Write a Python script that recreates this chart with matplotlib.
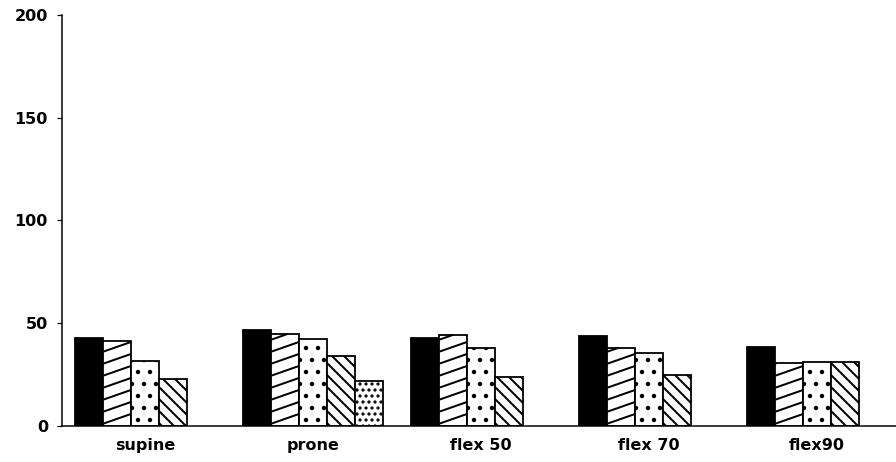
"""Grouped bar chart with hatched fills, redrawn from a scanned figure."""

import numpy as np
import matplotlib

matplotlib.use("Agg")
import matplotlib.pyplot as plt  # noqa: E402
from matplotlib.collections import LineCollection  # noqa: E402

groups = ["supine", "prone", "flex 50", "flex 70", "flex90"]

# one list per bar series (NaN = bar not present in that group)
solid = [42.8, 46.7, 43.0, 43.9, 38.3]
diag_up = [41.5, 44.8, 44.4, 38.1, 30.5]
dotted = [31.8, 42.5, 37.8, 35.7, 31.3]
diag_down = [22.7, 34.2, 23.7, 24.8, 31.0]
dotted_fine = [np.nan, 21.9, np.nan, np.nan, np.nan]

y_ticks = [0, 50, 100, 150, 200]

# (values, face, hatch); "shallow" = hand-drawn low-angle stripes
series = [
    (solid, "black", ""),
    (diag_up, "white", "shallow"),
    (dotted, "white", "."),
    (diag_down, "white", "\\\\"),
    (dotted_fine, "white", ".."),
]

plt.rcParams.update({
    "font.family": "DejaVu Sans",
    "font.weight": "bold",
    "hatch.linewidth": 2.0,
    "hatch.color": "black",
})

fig = plt.figure(figsize=(896 / 72, 462 / 72), dpi=72)
ax = fig.add_axes([62 / 896, 36 / 462, 1 - 62 / 896, (426 - 15) / 462])
ax.set_xlim(-0.46, 29.32)
ax.set_ylim(0, 200)


def shallow_stripes(ax, rect, rise=0.35, gap_px=12):
    """Low-angle '/' stripes inside a bar, spaced in pixels."""
    x, y = rect.get_x(), rect.get_y()
    w, h = rect.get_width(), rect.get_height()
    to_px = ax.transData
    (px0, py0), (px1, py1) = to_px.transform([(x, y), (x + w, y + h)])
    slope = rise
    segs = []
    off = -slope * (px1 - px0)
    while off < (py1 - py0):
        # line: py = py0 + off + slope * (px - px0), cut to the rectangle
        xa = max(px0, px0 + (0 - off) / slope)
        xb = min(px1, px0 + ((py1 - py0) - off) / slope)
        if xb > xa:
            segs.append([(xa, py0 + off + slope * (xa - px0)),
                         (xb, py0 + off + slope * (xb - px0))])
        off += gap_px
    inv = to_px.inverted()
    segs = [inv.transform(s) for s in segs]
    ax.add_collection(LineCollection(segs, colors="black", linewidths=2.0,
                                     capstyle="butt", zorder=rect.get_zorder()))


slots = 6  # 5 bar slots + 1 gap per group
x0 = np.arange(len(groups)) * slots
for j, (vals, face, hatch) in enumerate(series):
    bars = ax.bar(x0 + j + 0.5, vals, width=1.0, color=face, edgecolor="black",
                  linewidth=1.8, hatch=None if hatch == "shallow" else hatch)
    if hatch == "shallow":
        for r in bars:
            shallow_stripes(ax, r)

ax.set_yticks(y_ticks)
ax.set_xticks(x0 + 2.5)
ax.set_xticklabels(groups)
ax.tick_params(axis="x", length=0, pad=12, labelsize=16)
ax.tick_params(axis="y", length=5, width=1.2, pad=9, labelsize=16)
for s in ("top", "right"):
    ax.spines[s].set_visible(False)
for s in ("left", "bottom"):
    ax.spines[s].set_linewidth(1.5)

fig.savefig("out.png", dpi=72)
